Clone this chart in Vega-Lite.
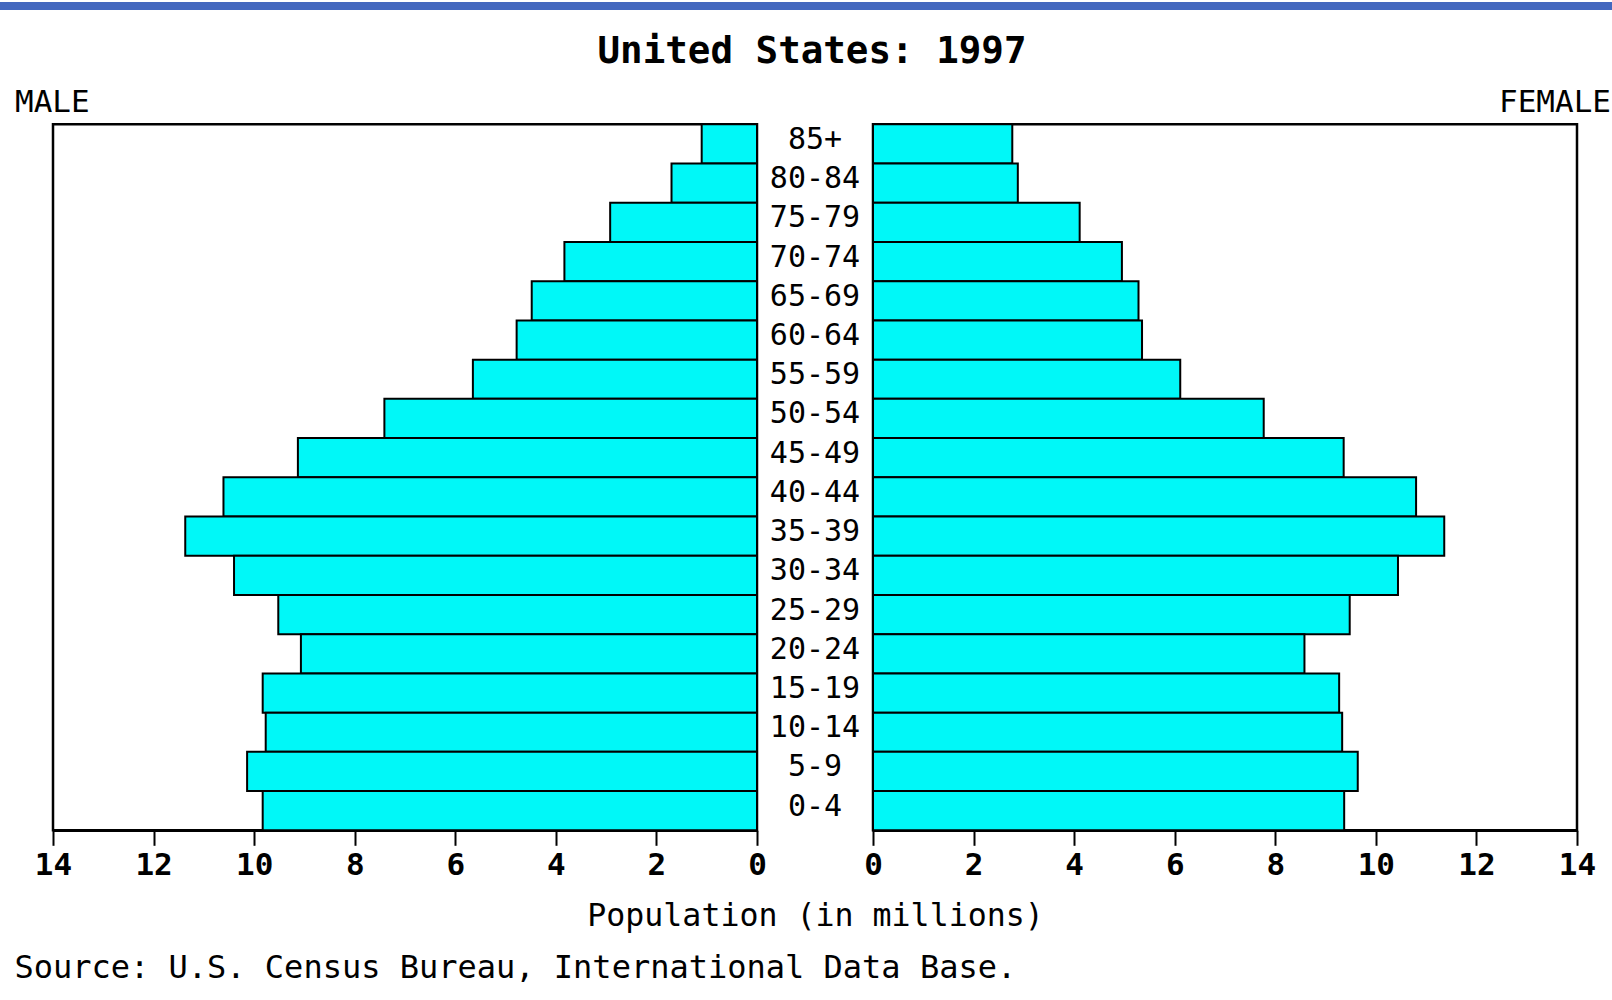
{
  "$schema": "https://vega.github.io/schema/vega-lite/v6.json",
  "padding": {"left": 0, "top": 0, "right": 0, "bottom": 20},
  "background": "white",
  "bounds": "flush",
  "spacing": 114.3,
  "datasets": {
    "pop": [
      {"age": "85+", "male": 1.10, "female": 2.77},
      {"age": "80-84", "male": 1.70, "female": 2.88},
      {"age": "75-79", "male": 2.92, "female": 4.11},
      {"age": "70-74", "male": 3.83, "female": 4.95},
      {"age": "65-69", "male": 4.48, "female": 5.28},
      {"age": "60-64", "male": 4.78, "female": 5.35},
      {"age": "55-59", "male": 5.65, "female": 6.11},
      {"age": "50-54", "male": 7.41, "female": 7.77},
      {"age": "45-49", "male": 9.13, "female": 9.36},
      {"age": "40-44", "male": 10.61, "female": 10.80},
      {"age": "35-39", "male": 11.37, "female": 11.36},
      {"age": "30-34", "male": 10.40, "female": 10.44},
      {"age": "25-29", "male": 9.52, "female": 9.48},
      {"age": "20-24", "male": 9.07, "female": 8.58},
      {"age": "15-19", "male": 9.83, "female": 9.27},
      {"age": "10-14", "male": 9.77, "female": 9.33},
      {"age": "5-9", "male": 10.14, "female": 9.64},
      {"age": "0-4", "male": 9.83, "female": 9.37}
    ]
  },
  "config": {
    "font": "DejaVu Sans Mono",
    "view": {"stroke": null},
    "axis": {"labelFont": "DejaVu Sans Mono", "titleFont": "DejaVu Sans Mono", "grid": false},
    "title": {"font": "DejaVu Sans Mono", "color": "black"}
  },
  "vconcat": [
    {
      "width": 1612,
      "height": 8,
      "view": {"fill": "#4468bf", "stroke": null},
      "data": {"values": [{}]},
      "mark": {"type": "text", "text": ""},
      "encoding": {}
    },
    {
      "bounds": "flush",
      "spacing": 0,
      "title": {
        "text": "Source: U.S. Census Bureau, International Data Base.",
        "orient": "bottom",
        "anchor": "start",
        "frame": "group",
        "dx": 14.4,
        "fontSize": 32,
        "fontWeight": "normal",
        "baseline": "alphabetic",
        "offset": 46
      },
      "hconcat": [
        {
          "width": 52.5,
          "height": 706,
          "data": {"values": [{}]},
          "mark": {"type": "text", "text": ""},
          "encoding": {}
        },
        {
          "width": 704,
          "height": 706,
          "view": {"stroke": "black", "strokeWidth": 2.5},
          "data": {"name": "pop"},
          "title": {
            "text": "MALE",
            "orient": "top",
            "anchor": "start",
            "frame": "group",
            "dx": -38,
            "fontSize": 31,
            "fontWeight": "normal",
            "baseline": "alphabetic",
            "offset": -20
          },
          "mark": {"type": "bar", "fill": "#00f8f8", "stroke": "black", "strokeWidth": 2},
          "encoding": {
            "y": {"field": "age", "type": "nominal", "sort": null, "scale": {"paddingInner": 0, "paddingOuter": 0}, "axis": null},
            "x": {
              "field": "male",
              "type": "quantitative",
              "scale": {"domain": [0, 14], "reverse": true, "nice": false},
              "axis": {
                "title": null,
                "values": [0, 2, 4, 6, 8, 10, 12, 14],
                "format": "d",
                "labelFontSize": 31,
                "labelFontWeight": "bold",
                "labelColor": "black",
                "labelPadding": 5,
                "labelFlush": false,
                "labelOverlap": false,
                "tickSize": 15,
                "tickColor": "black",
                "tickWidth": 2,
                "domainColor": "black",
                "domainWidth": 2.5,
                "grid": false
              }
            }
          }
        },
        {
          "width": 116,
          "height": 706,
          "data": {"name": "pop"},
          "title": {
            "text": "United States: 1997",
            "orient": "top",
            "anchor": "middle",
            "frame": "group",
            "dx": -3,
            "fontSize": 37.5,
            "fontWeight": "bold",
            "baseline": "alphabetic",
            "offset": 24
          },
          "mark": {"type": "text", "fontSize": 30, "color": "black", "dy": -4},
          "encoding": {
            "y": {"field": "age", "type": "nominal", "sort": null, "scale": {"paddingInner": 0, "paddingOuter": 0}, "axis": null},
            "x": {
              "datum": 0.5,
              "type": "quantitative",
              "scale": {"domain": [0, 1]},
              "axis": {
                "title": "Population (in millions)",
                "labels": false,
                "ticks": false,
                "domain": false,
                "grid": false,
                "titlePadding": 70,
                "titleFontSize": 31.6,
                "titleFontWeight": "normal",
                "titleColor": "black"
              }
            },
            "text": {"field": "age", "type": "nominal"}
          }
        },
        {
          "width": 704,
          "height": 706,
          "view": {"stroke": "black", "strokeWidth": 2.5},
          "data": {"name": "pop"},
          "title": {
            "text": "FEMALE",
            "orient": "top",
            "anchor": "end",
            "frame": "group",
            "dx": 34,
            "fontSize": 31,
            "fontWeight": "normal",
            "baseline": "alphabetic",
            "offset": -20
          },
          "mark": {"type": "bar", "fill": "#00f8f8", "stroke": "black", "strokeWidth": 2},
          "encoding": {
            "y": {"field": "age", "type": "nominal", "sort": null, "scale": {"paddingInner": 0, "paddingOuter": 0}, "axis": null},
            "x": {
              "field": "female",
              "type": "quantitative",
              "scale": {"domain": [0, 14], "nice": false},
              "axis": {
                "title": null,
                "values": [0, 2, 4, 6, 8, 10, 12, 14],
                "format": "d",
                "labelFontSize": 31,
                "labelFontWeight": "bold",
                "labelColor": "black",
                "labelPadding": 5,
                "labelFlush": false,
                "labelOverlap": false,
                "tickSize": 15,
                "tickColor": "black",
                "tickWidth": 2,
                "domainColor": "black",
                "domainWidth": 2.5,
                "grid": false
              }
            }
          }
        }
      ]
    }
  ]
}
